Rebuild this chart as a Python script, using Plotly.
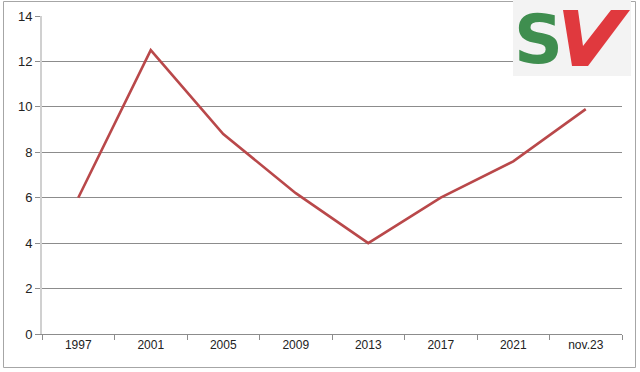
import plotly.graph_objects as go

categories = ["1997", "2001", "2005", "2009", "2013", "2017", "2021", "nov.23"]
values = [6.0, 12.5, 8.8, 6.2, 4.0, 6.0, 7.6, 9.9]
y_ticks = [0, 2, 4, 6, 8, 10, 12, 14]

W, H = 640, 372
L, R, T, B = 42, 18, 16, 38
pw, ph = W - L - R, H - T - B

def px(x):
    return (x - L) / pw

def py(y):
    return (H - B - y) / ph

fig = go.Figure()
fig.add_trace(go.Scatter(
    x=categories, y=values, mode="lines",
    line=dict(color="#b9484a", width=2.6),
    hoverinfo="skip", showlegend=False,
))

shapes = [
    # outer border
    dict(type="rect", xref="paper", yref="paper",
         x0=px(3.5), x1=px(635.5), y0=py(367.5), y1=py(1.5),
         line=dict(color="#a6a6a6", width=1), fillcolor="rgba(0,0,0,0)", layer="below"),
    # logo background
    dict(type="rect", xref="paper", yref="paper",
         x0=px(513), x1=px(631), y0=py(76), y1=py(0),
         line=dict(width=0), fillcolor="#f3f3f3", layer="above"),
    # V of logo
    dict(type="path", xref="paper", yref="paper",
         path="M {},{} L {},{} L {},{} L {},{} L {},{} L {},{} L {},{} Z".format(
             px(563), py(10), px(578), py(10), px(583), py(46),
             px(611), py(10), px(630), py(10), px(588), py(66), px(572), py(66)),
         line=dict(width=0), fillcolor="#e0393e", layer="above"),
]

annotations = [
    dict(text="<b>S</b>", xref="paper", yref="paper", x=px(538), y=py(40),
         xanchor="center", yanchor="middle", showarrow=False, borderpad=0,
         font=dict(family="DejaVu Sans", size=68, color="#3f8e4f")),
]

fig.update_layout(
    width=W, height=H,
    margin=dict(l=L, r=R, t=T, b=B, autoexpand=False),
    paper_bgcolor="white", plot_bgcolor="white",
    shapes=shapes, annotations=annotations,
    xaxis=dict(
        type="category", showgrid=False, showline=True,
        linecolor="#8c8c8c", linewidth=1,
        ticks="outside", tickson="boundaries", ticklen=5,
        tickcolor="#8c8c8c",
        tickfont=dict(family="Liberation Sans Narrow, Liberation Sans", size=12, color="#222222"),
        range=[-0.5, 7.5], fixedrange=True,
    ),
    yaxis=dict(
        range=[0, 14], tickvals=y_ticks, showgrid=True,
        gridcolor="#8c8c8c", gridwidth=1,
        showline=True, linecolor="#d0d0d0", linewidth=2,
        ticks="outside", ticklen=5, tickcolor="#8c8c8c",
        zeroline=False,
        tickfont=dict(family="Liberation Sans", size=13, color="#222222"),
        fixedrange=True,
    ),
)

fig.write_html("out.html", config={"displayModeBar": False},
               post_script="document.body.style.margin='0';document.body.style.overflow='hidden';")
